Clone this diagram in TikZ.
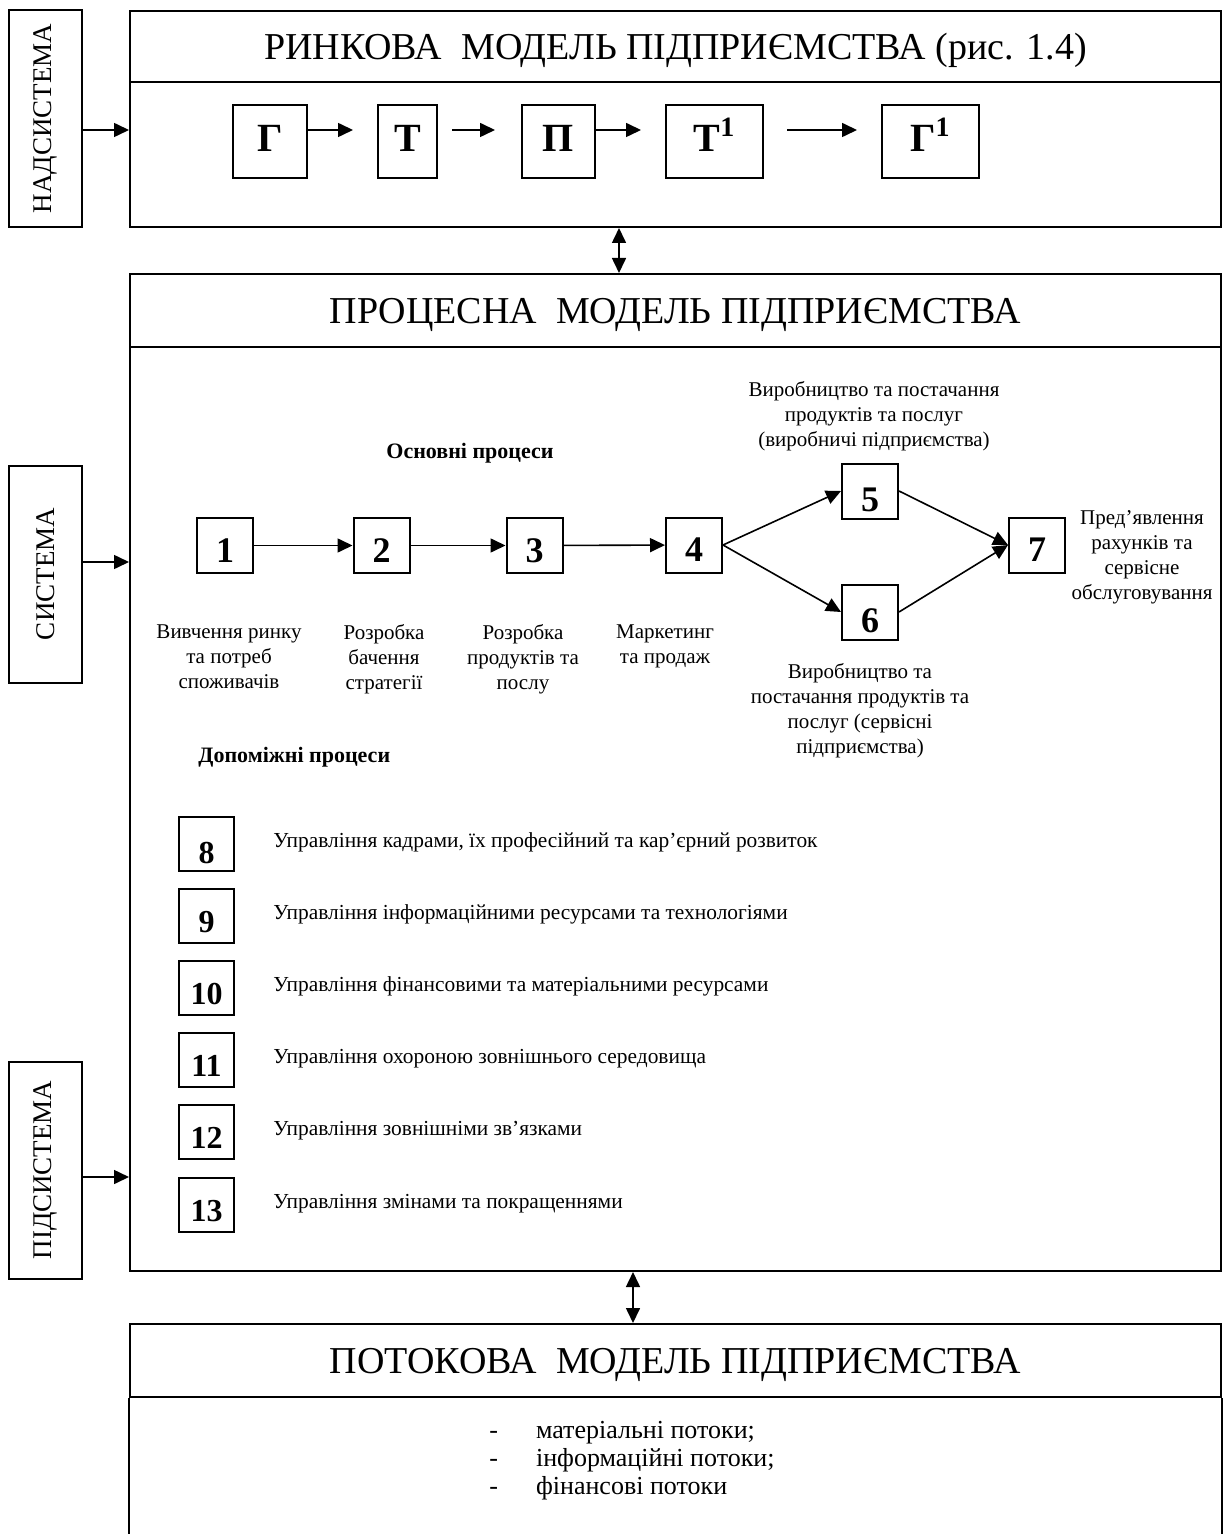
\documentclass[tikz,border=0pt]{standalone}
\usepackage{fontspec}
\setmainfont{Liberation Serif}
\usetikzlibrary{arrows.meta,calc}

\begin{document}
\begin{tikzpicture}[x=0.5pt,y=-0.5pt,
  frame/.style={draw, line width=1pt, inner sep=0pt},
  arr/.style={line width=0.8pt, -{Triangle[length=7.5pt,width=7pt]}},
  darr/.style={line width=0.8pt, {Triangle[length=7.5pt,width=7pt]}-{Triangle[length=7.5pt,width=7pt]}},
  sidebox/.style={frame, minimum width=36.5pt, minimum height=108.5pt, font=\fontsize{13.5}{15}\selectfont},
  head/.style={frame, minimum width=545.5pt, minimum height=36pt, anchor=north west,
    text height=12.6pt, text depth=0pt, font=\fontsize{19}{22}\selectfont},
  body/.style={frame, minimum width=545.5pt, anchor=north west},
  letterbox/.style={frame, minimum height=36.5pt, text height=10.5pt, text depth=0pt,
    font=\bfseries\fontsize{20}{24}\selectfont},
  numbox/.style={frame, minimum width=28pt, minimum height=27.5pt, text height=16.5pt,
    text depth=0pt, font=\bfseries\fontsize{18}{21}\selectfont},
  auxbox/.style={frame, minimum width=27.5pt, minimum height=27pt, text height=16pt,
    text depth=0pt, font=\bfseries\fontsize{16}{19}\selectfont},
  lab/.style={inner sep=0pt, align=center, anchor=north, font=\fontsize{10.5}{12.5}\selectfont},
  auxtext/.style={inner sep=0pt, anchor=base west, font=\fontsize{10.7}{12.5}\selectfont},
  sect/.style={inner sep=0pt, font=\bfseries\fontsize{11}{13}\selectfont}
]
\useasboundingbox (0,0) rectangle (1227,1534);

% ---- level boxes on the left
\node[sidebox] (nad) at (45.5,118.5) {\rotatebox{90}{НАДСИСТЕМА}};
\node[sidebox] (sys) at (45.5,574) {\rotatebox{90}{СИСТЕМА}};
\node[sidebox] (sub) at (45.5,1170) {\rotatebox{90}{ПІДСИСТЕМА}};

% ---- market model
\node[head, minimum height=35.5pt] (mhead) at (129,10) {РИНКОВА\ \ МОДЕЛЬ ПІДПРИЄМСТВА (рис. 1.4)};
\node[body, minimum height=72.5pt] (mbody) at (129,81) {};

\node[letterbox, minimum width=37pt]   (g)  at (270,141.5)   {Г};
\node[letterbox, minimum width=29.5pt] (t)  at (407.5,141.5) {Т};
\node[letterbox, minimum width=36.5pt] (p)  at (558.5,141.5) {П};
\node[letterbox, minimum width=48.5pt] (t1) at (714.5,141.5) {Т\textsuperscript{1}};
\node[letterbox, minimum width=48.5pt] (g1) at (930.5,141.5) {Г\textsuperscript{1}};

\draw[arr, shorten >=12pt] ([yshift=5.75pt]g.east) -- ([yshift=5.75pt]t.west);
\draw[arr, shorten <=7pt, shorten >=13pt] ([yshift=5.75pt]t.east) -- ([yshift=5.75pt]p.west);
\draw[arr, shorten >=12pt] ([yshift=5.75pt]p.east) -- ([yshift=5.75pt]t1.west);
\draw[arr, shorten <=11.5pt, shorten >=12pt] ([yshift=5.75pt]t1.east) -- ([yshift=5.75pt]g1.west);

% ---- process model
\node[head, minimum height=36.5pt] (phead) at (129,273) {ПРОЦЕСНА\ \ МОДЕЛЬ ПІДПРИЄМСТВА};
\node[body, minimum height=462pt] (pbody) at (129,346) {};

\node[sect] (mainp) at (470,453) {Основні процеси};

\node[numbox] (b1) at (225,545.5) {1};
\node[numbox] (b2) at (381.5,545.5) {2};
\node[numbox] (b3) at (534.5,545.5) {3};
\node[numbox] (b4) at (694,545) {4};
\node[numbox, text height=20pt] (b5) at (870,491) {5};
\node[numbox, text height=20pt] (b6) at (870,612) {6};
\node[numbox] (b7) at (1037,545) {7};

\draw[arr] (b1) -- (b2);
\draw[arr] (b2) -- (b3);
\draw[arr] (b3) -- (b4);
\draw[arr] (b4.east) -- (b5.west);
\draw[arr] (b4.east) -- (b6.west);
\draw[arr] (b5.east) -- (b7.west);
\draw[arr] (b6.east) -- (b7.west);

\node[lab] (l1) at (229,624) {Вивчення ринку\\та потреб\\споживачів};
\node[lab] (l2) at (384,624) {Розробка\\бачення\\стратегії};
\node[lab] (l3) at (523,624) {Розробка\\продуктів та\\послу};
\node[lab] (l4) at (665,624) {Маркетинг\\та продаж};
\node[lab] (l5) at (874,381) {Виробництво та постачання\\продуктів та послуг\\(виробничі підприємства)};
\node[lab] (l6) at (860,663) {Виробництво та\\постачання продуктів та\\послуг (сервісні\\підприємства)};
\node[lab] (l7) at (1142,510) {Пред’явлення\\рахунків та\\сервісне\\обслуговування};

\node[sect, anchor=west] (auxp) at (198,757) {Допоміжні процеси};

\node[auxbox, text height=19pt] (b8)  at (206.5,844)  {8};
\node[auxbox] (b9)  at (206.5,916)  {9};
\node[auxbox] (b10) at (206.5,988)  {10};
\node[auxbox] (b11) at (206.5,1060) {11};
\node[auxbox] (b12) at (206.5,1132) {12};
\node[auxbox] (b13) at (206.5,1205) {13};

\node[auxtext] (a8)  at (273,847)  {Управління кадрами, їх професійний та кар’єрний розвиток};
\node[auxtext] (a9)  at (273,919)  {Управління інформаційними ресурсами та технологіями};
\node[auxtext] (a10) at (273,991)  {Управління фінансовими та матеріальними ресурсами};
\node[auxtext] (a11) at (273,1063) {Управління охороною зовнішнього середовища};
\node[auxtext] (a12) at (273,1135) {Управління зовнішніми зв’язками};
\node[auxtext] (a13) at (273,1208) {Управління змінами та покращеннями};

% ---- flow model (box continues below the page edge)
\node[head, minimum height=36.5pt] (fhead) at (129,1323) {ПОТОКОВА\ \ МОДЕЛЬ ПІДПРИЄМСТВА};
\draw[line width=1pt] (fhead.south west) -- ++(0,220);
\draw[line width=1pt] (fhead.south east) -- ++(0,220);
\node[inner sep=0pt, anchor=north west, font=\fontsize{13}{14}\selectfont] (flist) at (489,1418)
  {\begin{tabular}{@{}l@{\hspace{19pt}}l@{}}
   - & матеріальні потоки;\\
   - & інформаційні потоки;\\
   - & фінансові потоки
   \end{tabular}};

% ---- connections between levels
\coordinate (na) at ([yshift=-5.75pt]nad.east);
\coordinate (sa) at ([yshift=6pt]sys.east);
\coordinate (ua) at ([yshift=-3.5pt]sub.east);
\draw[arr] (na) -- (na -| mbody.west);
\draw[arr] (sa) -- (sa -| pbody.west);
\draw[arr] (ua) -- (ua -| pbody.west);

\coordinate (d1) at ([xshift=-28.25pt]mbody.south);
\coordinate (d2) at ([xshift=-21.25pt]pbody.south);
\draw[darr] (d1) -- (d1 |- phead.north);
\draw[darr] (d2) -- (d2 |- fhead.north);
\end{tikzpicture}
\end{document}
